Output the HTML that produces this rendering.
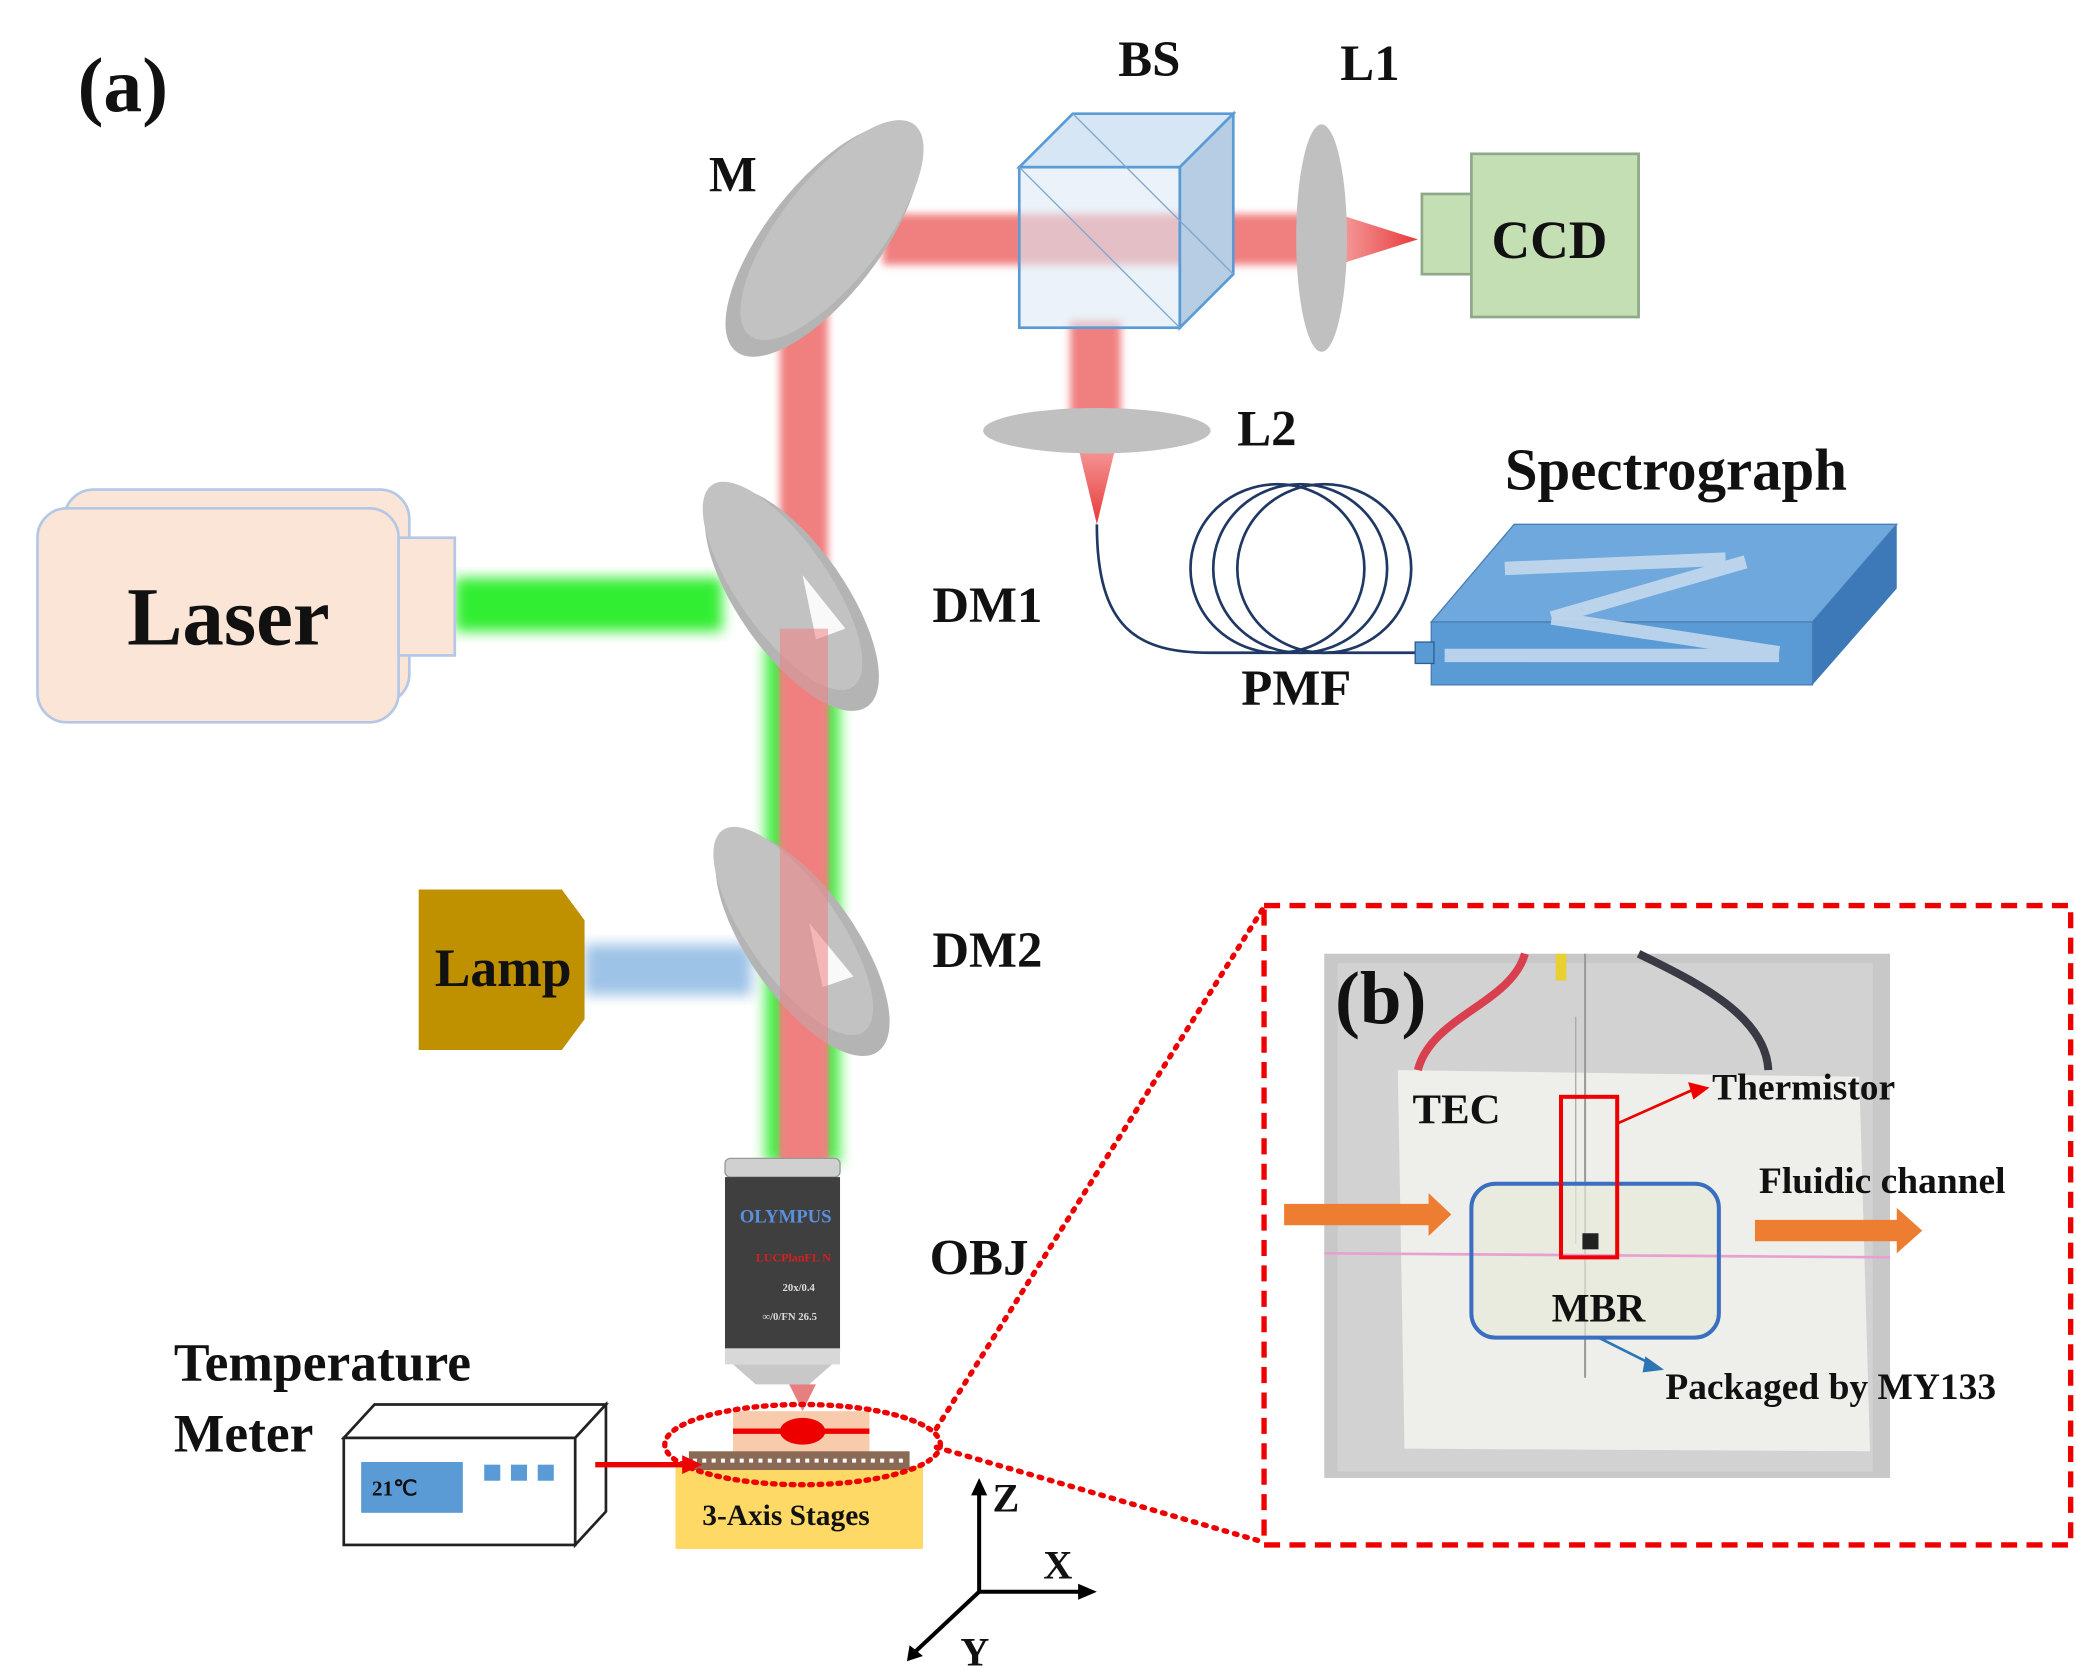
<!DOCTYPE html>
<html><head><meta charset="utf-8"><style>
html,body{margin:0;padding:0;background:#fff;}
svg{display:block;}
text{font-family:"Liberation Serif",serif;font-weight:bold;fill:#111;}
</style></head><body>
<svg width="2076" height="1672" viewBox="0 0 1552 1250" preserveAspectRatio="none" xmlns="http://www.w3.org/2000/svg">
<defs>
<filter id="bl" x="-20%" y="-20%" width="140%" height="140%"><feGaussianBlur stdDeviation="5"/></filter>
<filter id="bl2" x="-20%" y="-20%" width="140%" height="140%"><feGaussianBlur stdDeviation="3"/></filter>
<linearGradient id="cone" x1="0" y1="0" x2="0" y2="1"><stop offset="0" stop-color="#f5a0a0"/><stop offset="1" stop-color="#e83a3a"/></linearGradient>
<linearGradient id="coneh" x1="0" y1="0" x2="1" y2="0"><stop offset="0" stop-color="#f5a0a0"/><stop offset="1" stop-color="#e83a3a"/></linearGradient>
</defs>
<rect width="1552" height="1250" fill="#fff"/>

<text x="58" y="83" font-size="58">(a)</text>

<!-- beams -->
<rect x="572" y="480" width="56" height="390" fill="#44ee44" filter="url(#bl)"/>
<rect x="340" y="432" width="200" height="40" fill="#33ee33" filter="url(#bl)"/>
<rect x="437" y="706" width="125" height="38" fill="#9dc3e6" filter="url(#bl)"/>
<rect x="583" y="230" width="36" height="640" fill="#f08080" filter="url(#bl2)"/>
<rect x="660" y="160" width="340" height="38" fill="#f08080" filter="url(#bl2)"/>
<rect x="800" y="240" width="38" height="80" fill="#f08080" filter="url(#bl2)"/>
<polygon points="1000,160 1060,179 1000,198" fill="url(#coneh)"/>
<polygon points="805,330 835,330 820,392" fill="url(#cone)"/>

<!-- M mirror -->
<ellipse cx="615" cy="180" rx="105" ry="42" transform="rotate(-52 615 180)" fill="#b4b4b4"/>
<ellipse cx="622" cy="172" rx="100" ry="38" transform="rotate(-52 622 172)" fill="#c2c2c2"/>

<!-- BS cube -->
<polygon points="762,125 802,85 922,85 882,125" fill="#d6e6f4" stroke="#5b9bd5" stroke-width="2"/>
<polygon points="882,125 922,85 922,205 882,245" fill="#b7cde4" stroke="#5b9bd5" stroke-width="2"/>
<rect x="762" y="125" width="120" height="120" fill="#dde9f5" fill-opacity="0.6" stroke="#5b9bd5" stroke-width="2"/>
<line x1="762" y1="125" x2="882" y2="245" stroke="#7fa6cc" stroke-width="1"/>
<line x1="802" y1="85" x2="922" y2="205" stroke="#7fa6cc" stroke-width="1"/>

<!-- L1 -->
<ellipse cx="988" cy="178" rx="19" ry="85" fill="#c0c0c0"/>
<!-- CCD -->
<rect x="1063" y="145" width="38" height="60" fill="#c5dfb4" stroke="#8fa88a" stroke-width="2"/>
<rect x="1100" y="115" width="125" height="122" fill="#c5dfb4" stroke="#8fa88a" stroke-width="2"/>
<text x="1115" y="193" font-size="40">CCD</text>

<!-- L2 -->
<ellipse cx="820" cy="322" rx="85" ry="17" fill="#c0c0c0"/>

<!-- fiber -->
<path d="M820,392 C820,470 850,488 905,488 L1060,488" fill="none" stroke="#1f3864" stroke-width="2"/>
<ellipse cx="955" cy="425" rx="65" ry="63" fill="none" stroke="#1f3864" stroke-width="2"/>
<ellipse cx="972" cy="425" rx="65" ry="63" fill="none" stroke="#1f3864" stroke-width="2"/>
<ellipse cx="990" cy="425" rx="65" ry="63" fill="none" stroke="#1f3864" stroke-width="2"/>

<!-- Spectrograph -->
<polygon points="1070,465 1132,392 1418,392 1355,465" fill="#6fa8dc" stroke="#4a7fb5" stroke-width="1"/>
<polygon points="1355,465 1418,392 1418,440 1355,512" fill="#3d79b8"/>
<rect x="1070" y="465" width="285" height="47" fill="#5b9bd5" stroke="#4a7fb5" stroke-width="1"/>
<rect x="1058" y="480" width="14" height="16" fill="#5b9bd5" stroke="#2e5e91" stroke-width="1"/>
<g stroke="#c9dcef" stroke-width="10" fill="none" opacity="0.85">
<line x1="1125" y1="425" x2="1290" y2="418"/>
<line x1="1160" y1="462" x2="1305" y2="420"/>
<line x1="1160" y1="462" x2="1330" y2="488"/>
<line x1="1080" y1="490" x2="1330" y2="490"/>
</g>
<text x="1125" y="366" font-size="44">Spectrograph</text>

<!-- Laser -->
<rect x="48" y="366" width="258" height="160" rx="22" fill="#fbe5d6" stroke="#b4c7e7" stroke-width="2"/>
<rect x="28" y="380" width="270" height="160" rx="22" fill="#fbe5d6" stroke="#b4c7e7" stroke-width="2"/>
<rect x="298" y="402" width="42" height="88" fill="#fbe5d6" stroke="#b4c7e7" stroke-width="2"/>
<text x="95" y="482" font-size="62">Laser</text>

<!-- DM1 -->
<ellipse cx="592" cy="448" rx="98" ry="40" transform="rotate(55 592 448)" fill="#b4b4b4"/>
<ellipse cx="585" cy="438" rx="92" ry="34" transform="rotate(55 585 438)" fill="#c2c2c2"/>
<polygon points="600,430 632,470 610,478" fill="#fff" opacity="0.9"/>
<!-- DM2 -->
<ellipse cx="600" cy="706" rx="98" ry="40" transform="rotate(55 600 706)" fill="#b4b4b4"/>
<ellipse cx="593" cy="696" rx="92" ry="34" transform="rotate(55 593 696)" fill="#c2c2c2"/>
<polygon points="605,690 638,730 615,738" fill="#fff" opacity="0.9"/>
<rect x="583" y="470" width="36" height="400" fill="#f08080" opacity="0.55"/>

<!-- Lamp -->
<polygon points="313,665 420,665 437,688 437,762 420,785 313,785" fill="#bf9000"/>
<text x="325" y="737" font-size="40">Lamp</text>

<!-- labels -->
<text x="530" y="143" font-size="38">M</text>
<text x="836" y="57" font-size="38">BS</text>
<text x="1002" y="60" font-size="38">L1</text>
<text x="925" y="333" font-size="38">L2</text>
<text x="697" y="465" font-size="38">DM1</text>
<text x="697" y="723" font-size="38">DM2</text>
<text x="928" y="527" font-size="38">PMF</text>
<text x="695" y="953" font-size="38">OBJ</text>

<!-- Objective -->
<rect x="542" y="866" width="86" height="14" rx="4" fill="#d0d0d0" stroke="#999"/>
<rect x="542" y="880" width="86" height="130" fill="#3f3f3f"/>
<rect x="542" y="1008" width="86" height="12" fill="#d8d8d8"/>
<polygon points="548,1020 622,1020 605,1035 565,1035" fill="#c8c8c8"/>
<text x="553" y="914" font-size="14" fill="#5b8fdc" style="fill:#5b8fdc">OLYMPUS</text>
<text x="565" y="943" font-size="9" style="fill:#d62020">LUCPlanFL N</text>
<text x="585" y="965" font-size="8" style="fill:#ddd">20x/0.4</text>
<text x="570" y="987" font-size="8" style="fill:#ddd">∞/0/FN 26.5</text>
<polygon points="590,1035 610,1035 600,1055" fill="#e06060" opacity="0.8"/>

<!-- stage -->
<rect x="548" y="1055" width="102" height="32" fill="#f8cbad"/>
<line x1="548" y1="1070" x2="650" y2="1070" stroke="#e00" stroke-width="4"/>
<ellipse cx="600" cy="1070" rx="17" ry="10" fill="#e00"/>
<rect x="505" y="1096" width="185" height="62" fill="#ffd966"/>
<rect x="515" y="1085" width="165" height="14" fill="#8b6a55"/>
<line x1="518" y1="1092" x2="678" y2="1092" stroke="#fff" stroke-width="3" stroke-dasharray="3,4"/>
<text x="525" y="1140" font-size="22">3-Axis Stages</text>
<ellipse cx="600" cy="1080" rx="103" ry="30" fill="none" stroke="#e00" stroke-width="4" stroke-dasharray="2,5" stroke-linecap="round"/>
<line x1="700" y1="1068" x2="945" y2="678" stroke="#e00" stroke-width="4" stroke-dasharray="2,6" stroke-linecap="round"/>
<line x1="700" y1="1082" x2="945" y2="1153" stroke="#e00" stroke-width="4" stroke-dasharray="2,6" stroke-linecap="round"/>

<!-- Temperature meter -->
<text x="130" y="1032" font-size="40">Temperature</text>
<text x="130" y="1085" font-size="40">Meter</text>
<polygon points="257,1075 280,1050 453,1050 430,1075" fill="#fff" stroke="#222" stroke-width="2"/>
<polygon points="430,1075 453,1050 453,1130 430,1155" fill="#fff" stroke="#222" stroke-width="2"/>
<rect x="257" y="1075" width="173" height="80" fill="#fff" stroke="#222" stroke-width="2"/>
<rect x="270" y="1093" width="76" height="38" fill="#5b9bd5"/>
<text x="278" y="1118" font-size="16">21℃</text>
<rect x="362" y="1095" width="12" height="12" fill="#5b9bd5"/>
<rect x="382" y="1095" width="12" height="12" fill="#5b9bd5"/>
<rect x="402" y="1095" width="12" height="12" fill="#5b9bd5"/>
<line x1="445" y1="1095" x2="512" y2="1095" stroke="#e00" stroke-width="4"/>
<polygon points="510,1088 525,1095 510,1102" fill="#e00"/>

<!-- axes -->
<g stroke="#000" stroke-width="3" fill="none">
<line x1="732" y1="1190" x2="732" y2="1115"/>
<line x1="732" y1="1190" x2="810" y2="1190"/>
<line x1="732" y1="1190" x2="683" y2="1236"/>
</g>
<polygon points="726,1118 732,1105 738,1118" fill="#000"/>
<polygon points="806,1184 820,1190 806,1196" fill="#000"/>
<polygon points="680,1230 678,1242 690,1238" fill="#000"/>
<text x="742" y="1130" font-size="30">Z</text>
<text x="780" y="1180" font-size="30">X</text>
<text x="718" y="1245" font-size="30">Y</text>

<!-- (b) panel -->
<rect x="945" y="677" width="603" height="478" fill="none" stroke="#e00" stroke-width="4" stroke-dasharray="12,7"/>
<rect x="990" y="713" width="423" height="392" fill="#c8c8c8"/>
<rect x="1000" y="720" width="400" height="380" fill="#d2d2d2"/>
<polygon points="1045,800 1390,805 1398,1085 1050,1083" fill="#eeeeea"/>
<path d="M1060,800 C1070,760 1130,750 1140,713" stroke="#d84050" stroke-width="6" fill="none"/>
<path d="M1225,713 C1270,735 1320,760 1322,800" stroke="#3a3a44" stroke-width="6" fill="none"/>
<rect x="1163" y="713" width="8" height="20" fill="#e8d030"/>
<line x1="1185" y1="713" x2="1185" y2="1030" stroke="#999" stroke-width="1.5"/>
<line x1="1178" y1="760" x2="1178" y2="930" stroke="#aaa" stroke-width="1"/>
<rect x="1100" y="885" width="185" height="115" rx="18" fill="#e7ead8" opacity="0.7"/>
<line x1="990" y1="937" x2="1413" y2="940" stroke="#e8a0d0" stroke-width="2"/>
<rect x="1100" y="885" width="185" height="115" rx="18" fill="none" stroke="#3a6ec0" stroke-width="3"/>
<rect x="1167" y="820" width="42" height="120" fill="none" stroke="#e00" stroke-width="3"/>
<rect x="1183" y="922" width="12" height="12" fill="#222"/>
<line x1="1209" y1="840" x2="1265" y2="815" stroke="#e00" stroke-width="2"/>
<polygon points="1262,809 1278,813 1266,822" fill="#e00"/>
<line x1="1195" y1="1000" x2="1235" y2="1020" stroke="#2e75b6" stroke-width="2"/>
<polygon points="1230,1014 1244,1024 1228,1026" fill="#2e75b6"/>
<polygon points="960,900 1068,900 1068,892 1085,908 1068,924 1068,916 960,916" fill="#ed7d31"/>
<polygon points="1312,912 1418,912 1418,903 1437,920 1418,937 1418,928 1312,928" fill="#ed7d31"/>
<text x="998" y="765" font-size="56">(b)</text>
<text x="1056" y="840" font-size="32">TEC</text>
<text x="1280" y="822" font-size="28">Thermistor</text>
<text x="1315" y="892" font-size="28">Fluidic channel</text>
<text x="1160" y="988" font-size="30">MBR</text>
<text x="1245" y="1046" font-size="28">Packaged by MY133</text>
</svg>
</body></html>
